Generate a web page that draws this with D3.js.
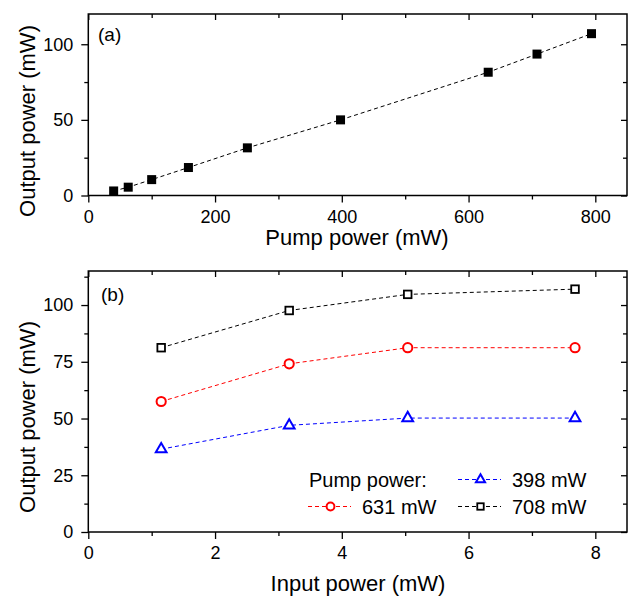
<!DOCTYPE html>
<html><head><meta charset="utf-8">
<script src="https://cdn.jsdelivr.net/npm/d3@7"></script>
<style>
body{margin:0;background:#fff;}
svg{display:block;font-family:"Liberation Sans",Arial,Helvetica,sans-serif;}
</style></head>
<body>
<svg id="c" width="633" height="597"></svg>
<script>
// Panel (a) data
const pumpPower = [40, 63, 100, 158, 251, 398, 631, 708, 794];
const outputA   = [3, 5.5, 10.5, 18.5, 31.5, 50, 81.5, 93.5, 107];
// Panel (b) data
const inputPower = [1.15, 3.17, 5.04, 7.68];
const seriesNames = ["398 mW", "631 mW", "708 mW"];
const out398 = [36.5, 47, 50.2, 50.2];
const out631 = [57.5, 74.1, 81.2, 81.2];
const out708 = [81.2, 97.6, 104.7, 107];
const colors = ["#0000ff", "#ff0000", "#000000"];
const shapes = ["triangle", "circle", "square"];
// ticks
const xTicksA = [0, 200, 400, 600, 800], xMinorA = [100, 300, 500, 700];
const yTicksA = [0, 50, 100], yMinorA = [25, 75];
const xTicksB = [0, 2, 4, 6, 8], xMinorB = [1, 3, 5, 7];
const yTicksB = [0, 25, 50, 75, 100], yMinorB = [12.5, 37.5, 62.5, 87.5, 112.5];

const svg = d3.select("#c");
const L = 88.3, R = 627;

function panel(cfg){
  const g = svg.append("g");
  const x = d3.scaleLinear().domain(cfg.xd).range([L, R]);
  const y = d3.scaleLinear().domain(cfg.yd).range([cfg.bottom, cfg.top]);
  const font = s => s.selectAll("text").attr("font-size", 18).attr("fill", "#000").attr("font-family", null);
  const clean = s => { s.select(".domain").remove(); s.selectAll("line").attr("stroke", "#000").attr("stroke-width", 1.3); };
  // bottom
  g.append("g").attr("transform", `translate(0,${cfg.bottom})`)
    .call(d3.axisBottom(x).tickValues(cfg.xt).tickSize(7).tickPadding(7.5).tickSizeOuter(0).tickFormat(d3.format("d")))
    .call(clean).call(font);
  g.append("g").attr("transform", `translate(0,${cfg.bottom})`)
    .call(d3.axisBottom(x).tickValues(cfg.xm).tickSize(4).tickFormat("")).call(clean);
  // left
  g.append("g").attr("transform", `translate(${L},0)`)
    .call(d3.axisLeft(y).tickValues(cfg.yt).tickSize(7).tickPadding(8).tickFormat(d3.format("d")))
    .call(clean).call(font);
  g.append("g").attr("transform", `translate(${L},0)`)
    .call(d3.axisLeft(y).tickValues(cfg.ym).tickSize(4).tickFormat("")).call(clean);
  // top (inward)
  g.append("g").attr("transform", `translate(0,${cfg.top})`)
    .call(d3.axisTop(x).tickValues(cfg.xt).tickSize(-6).tickFormat("")).call(clean);
  g.append("g").attr("transform", `translate(0,${cfg.top})`)
    .call(d3.axisTop(x).tickValues(cfg.xm).tickSize(-4).tickFormat("")).call(clean);
  // right (inward)
  g.append("g").attr("transform", `translate(${R},0)`)
    .call(d3.axisRight(y).tickValues(cfg.yt).tickSize(-6).tickFormat("")).call(clean);
  g.append("g").attr("transform", `translate(${R},0)`)
    .call(d3.axisRight(y).tickValues(cfg.ym).tickSize(-4).tickFormat("")).call(clean);
  // frame
  g.append("rect").attr("x", L).attr("y", cfg.top).attr("width", R - L).attr("height", cfg.bottom - cfg.top)
    .attr("fill", "none").attr("stroke", "#000").attr("stroke-width", 1.5);
  // labels
  g.append("text").attr("x", cfg.tagX).attr("y", cfg.tagY).attr("font-size", 19).text(cfg.tag);
  g.append("text").attr("x", cfg.xlX).attr("y", cfg.xlY).attr("font-size", 22).attr("text-anchor", "middle").text(cfg.xl);
  g.append("text").attr("transform", `translate(${cfg.ylX},${cfg.ylY}) rotate(-90)`)
    .attr("font-size", 22).attr("text-anchor", "middle").text(cfg.yl);
  return {g, x, y};
}

// Panel (a)
const A = panel({xd:[0,850], yd:[0,120], top:14, bottom:195.5, xt:xTicksA, xm:xMinorA, yt:yTicksA, ym:yMinorA,
  tag:"(a)", tagX:98, tagY:40.5, xl:"Pump power (mW)", xlX:357, xlY:245, yl:"Output power (mW)", ylX:35, ylY:121});
const dataA = pumpPower.map((p,i)=>({x:p, y:outputA[i]}));
A.g.append("path").datum(dataA)
  .attr("d", d3.line().x(d=>A.x(d.x)).y(d=>A.y(d.y)))
  .attr("fill","none").attr("stroke","#000").attr("stroke-width",1).attr("stroke-dasharray","4 3");
A.g.selectAll("rect.pt").data(dataA).join("rect").attr("class","pt")
  .attr("x", d=>A.x(d.x)-4.5).attr("y", d=>A.y(d.y)-4.5).attr("width",9).attr("height",9).attr("fill","#000");

// Panel (b)
const B = panel({xd:[0,8.5], yd:[0,115], top:271, bottom:532, xt:xTicksB, xm:xMinorB, yt:yTicksB, ym:yMinorB,
  tag:"(b)", tagX:101, tagY:301, xl:"Input power (mW)", xlX:358, xlY:591, yl:"Output power (mW)", ylX:35, ylY:417});

function marker(sel, shape, color, s){
  if(shape==="circle"){
    sel.append("circle").attr("r", 4.6*s).attr("fill","#fff").attr("stroke",color).attr("stroke-width",2);
  } else if(shape==="square"){
    sel.append("rect").attr("x",-3.8*s).attr("y",-3.8*s).attr("width",7.6*s).attr("height",7.6*s)
      .attr("fill","#fff").attr("stroke",color).attr("stroke-width",1.8);
  } else {
    sel.append("path").attr("d", d3.symbol(d3.symbolTriangle, 50*s*s)()).attr("fill","#fff")
      .attr("stroke",color).attr("stroke-width",2);
  }
}

const seriesB = [out398, out631, out708];
seriesB.forEach((vals, k)=>{
  const pts = inputPower.map((p,i)=>({x:p, y:vals[i]}));
  B.g.append("path").datum(pts)
    .attr("d", d3.line().x(d=>B.x(d.x)).y(d=>B.y(d.y)))
    .attr("fill","none").attr("stroke",colors[k]).attr("stroke-width",1).attr("stroke-dasharray","4 3");
  pts.forEach(d=>{
    const m = B.g.append("g").attr("transform",`translate(${B.x(d.x)},${B.y(d.y)})`);
    marker(m, shapes[k], colors[k], 1);
  });
});

// Legend
const leg = B.g.append("g");
leg.append("text").attr("x",309).attr("y",486.5).attr("font-size",20).text("Pump power:");
const legPos = [{x:458, y:479.5}, {x:308, y:506.5}, {x:458, y:506.5}];
seriesNames.forEach((name,k)=>{
  const p = legPos[k];
  leg.append("line").attr("x1",p.x).attr("x2",p.x+43).attr("y1",p.y).attr("y2",p.y)
    .attr("stroke",colors[k]).attr("stroke-width",1).attr("stroke-dasharray","4 3");
  const m = leg.append("g").attr("transform",`translate(${p.x+22.5},${p.y})`);
  marker(m, shapes[k], colors[k], 0.85);
  leg.append("text").attr("x",p.x+54).attr("y",p.y+7).attr("font-size",20).text(name);
});
</script>
</body></html>
